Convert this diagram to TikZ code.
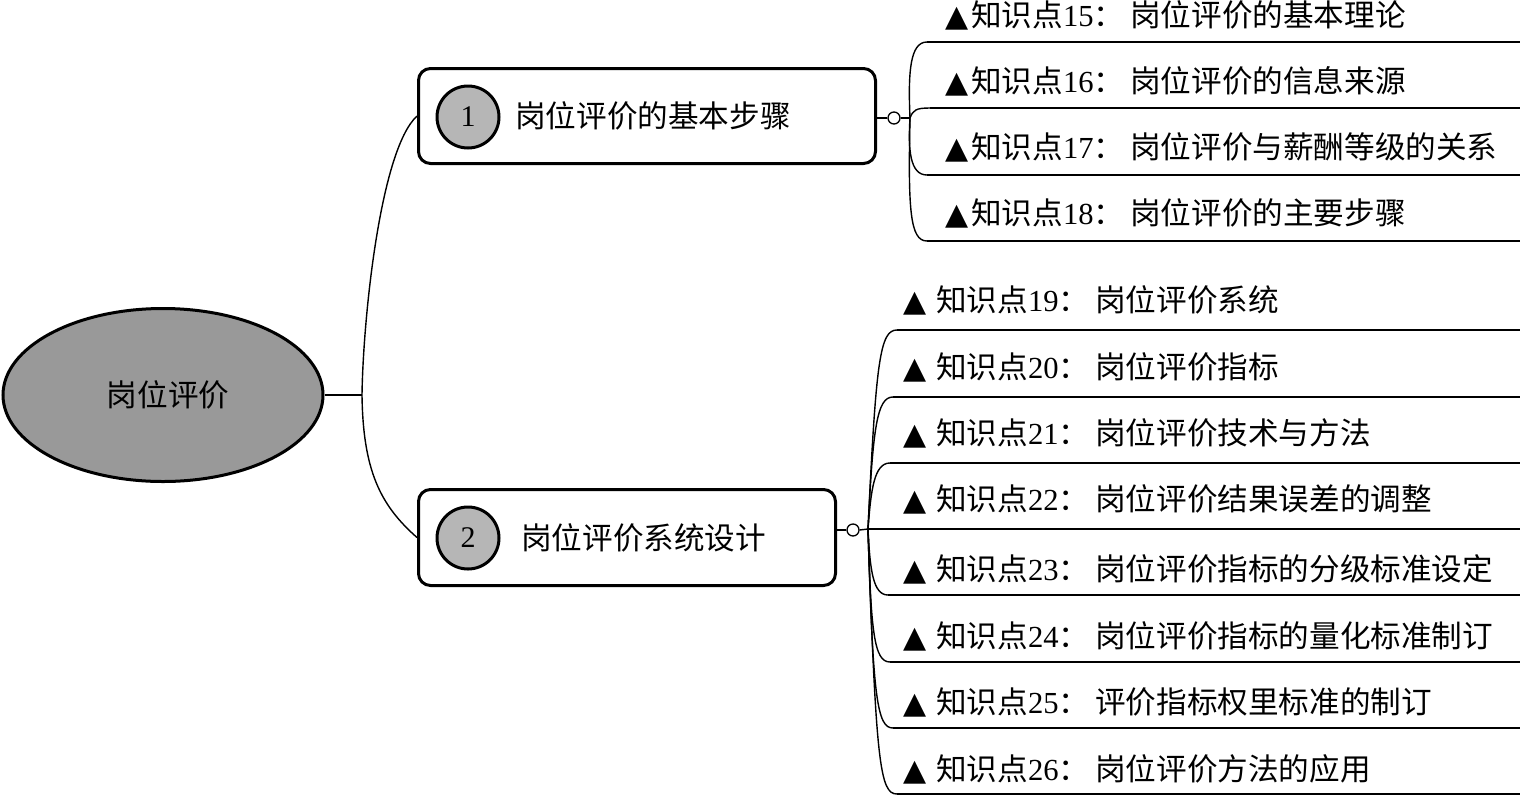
\documentclass[tikz,border=0pt]{standalone}
\usepackage{fontspec}
\setmainfont{Liberation Serif}
\newfontfamily\cjk{Noto Sans CJK SC}
\newfontfamily\dv{DejaVu Sans}
\usetikzlibrary{shapes.geometric}
\definecolor{rootgray}{RGB}{153,153,153}
\definecolor{numgray}{RGB}{182,182,182}
\newcommand\tri{{\dv\fontsize{30}{36}\selectfont ▲}}
\newcommand\kpA[2]{\tri\hspace{3pt}{\cjk 知识点}#1{\cjk ：}\hspace{6pt}{\cjk #2}}
\newcommand\kpB[2]{\tri\hspace{10pt}{\cjk 知识点}#1{\cjk ：}\hspace{6pt}{\cjk #2}}
\begin{document}
\begin{tikzpicture}[x=1pt,y=-1pt,
  txt/.style={font=\fontsize{30.6}{36}\selectfont, inner sep=0pt},
  rootnode/.style={ellipse, draw, line width=3pt, fill=rootgray, minimum width=320pt, minimum height=173pt, inner sep=0pt},
  topicbox/.style={draw, line width=3pt, rounded corners=12pt, inner sep=0pt},
  numcircle/.style={circle, draw, line width=3pt, fill=numgray, minimum size=62pt, inner sep=0pt, font=\fontsize{30}{36}\selectfont},
  knob/.style={circle, draw, line width=1.3pt, fill=white, minimum size=12pt, inner sep=0pt},
  conn/.style={line width=1.4pt},
  uline/.style={line width=2pt},
  leaf/.style={txt, anchor=west}]
\useasboundingbox (0,0) rectangle (1520,796);

% root
\node[rootnode] (root) at (163,395) {};
\node[txt] (roottxt) at (168,395) {\cjk 岗位评价};
\coordinate (b0) at (362,395);

% topic 1
\node[topicbox, minimum width=457pt, minimum height=95pt] (t1) at (647,116) {};
\node[numcircle] (n1) at (468,117) {1};
\node[leaf] (t1txt) at (515,116) {\cjk 岗位评价的基本步骤};
\node[knob] (k1) at (894,118) {};
\coordinate (b1) at (910,118);

% topic 2
\node[topicbox, minimum width=417pt, minimum height=96pt] (t2) at (627,537.5) {};
\node[numcircle] (n2) at (468,538) {2};
\node[leaf] (t2txt) at (521,538) {\cjk 岗位评价系统设计};
\node[knob] (k2) at (853,530) {};
\coordinate (b2) at (868,529);

% root connectors
\draw[conn] (root.east) -- (b0);
\draw[conn] (b0) .. controls (363,320) and (380,150) .. (t1.west);
\draw[conn] (b0) .. controls (363,470) and (380,505) .. (t2.west);
\draw[conn] (t1.east |- k1) -- (k1.west);
\draw[conn] (k1.east) -- (b1);
\draw[conn] (t2.east |- k2) -- (k2.west);
\draw[conn] (k2.east) -- (b2);

% leaves of topic 1
\node[leaf] (l15) at (945,15) {\kpA{15}{岗位评价的基本理论}};
\node[leaf] (l16) at (945,81) {\kpA{16}{岗位评价的信息来源}};
\node[leaf] (l17) at (945,147) {\kpA{17}{岗位评价与薪酬等级的关系}};
\node[leaf] (l18) at (945,213) {\kpA{18}{岗位评价的主要步骤}};
\coordinate (e15) at (927,42);
\coordinate (e16) at (930,108);
\coordinate (e17) at (927,175);
\coordinate (e18) at (927,241);
\draw[conn] (b1) .. controls (908,72) and (910,42) .. (e15);
\draw[conn] (b1) .. controls (913,110) and (916,108) .. (e16);
\draw[conn] (b1) .. controls (908,150) and (910,175) .. (e17);
\draw[conn] (b1) .. controls (908,210) and (910,241) .. (e18);
\draw[uline] (e15) -- (1520,42);
\draw[uline] (e16) -- (1520,108);
\draw[uline] (e17) -- (1520,175);
\draw[uline] (e18) -- (1520,241);

% leaves of topic 2
\node[leaf] (l19) at (903,300) {\kpB{19}{岗位评价系统}};
\node[leaf] (l20) at (903,367) {\kpB{20}{岗位评价指标}};
\node[leaf] (l21) at (903,433) {\kpB{21}{岗位评价技术与方法}};
\node[leaf] (l22) at (903,499) {\kpB{22}{岗位评价结果误差的调整}};
\node[leaf] (l23) at (903,569) {\kpB{23}{岗位评价指标的分级标准设定}};
\node[leaf] (l24) at (903,636) {\kpB{24}{岗位评价指标的量化标准制订}};
\node[leaf] (l25) at (903,702) {\kpB{25}{评价指标权里标准的制订}};
\node[leaf] (l26) at (903,769) {\kpB{26}{岗位评价方法的应用}};
\coordinate (e19) at (897,330);
\coordinate (e20) at (893,397);
\coordinate (e21) at (890,463);
\coordinate (e23) at (888,595);
\coordinate (e24) at (890,662);
\coordinate (e25) at (893,728);
\coordinate (e26) at (897,794);
\draw[conn] (b2) .. controls (876,360) and (880,330) .. (e19);
\draw[conn] (b2) .. controls (873,427) and (877,397) .. (e20);
\draw[conn] (b2) .. controls (871,490) and (874,463) .. (e21);
\draw[uline] (b2) -- (1520,529);
\draw[conn] (b2) .. controls (870,570) and (873,595) .. (e23);
\draw[conn] (b2) .. controls (871,632) and (874,662) .. (e24);
\draw[conn] (b2) .. controls (873,698) and (877,728) .. (e25);
\draw[conn] (b2) .. controls (876,764) and (880,794) .. (e26);
\draw[uline] (e19) -- (1520,330);
\draw[uline] (e20) -- (1520,397);
\draw[uline] (e21) -- (1520,463);
\draw[uline] (e23) -- (1520,595);
\draw[uline] (e24) -- (1520,662);
\draw[uline] (e25) -- (1520,728);
\draw[uline] (e26) -- (1520,794);
\end{tikzpicture}
\end{document}
